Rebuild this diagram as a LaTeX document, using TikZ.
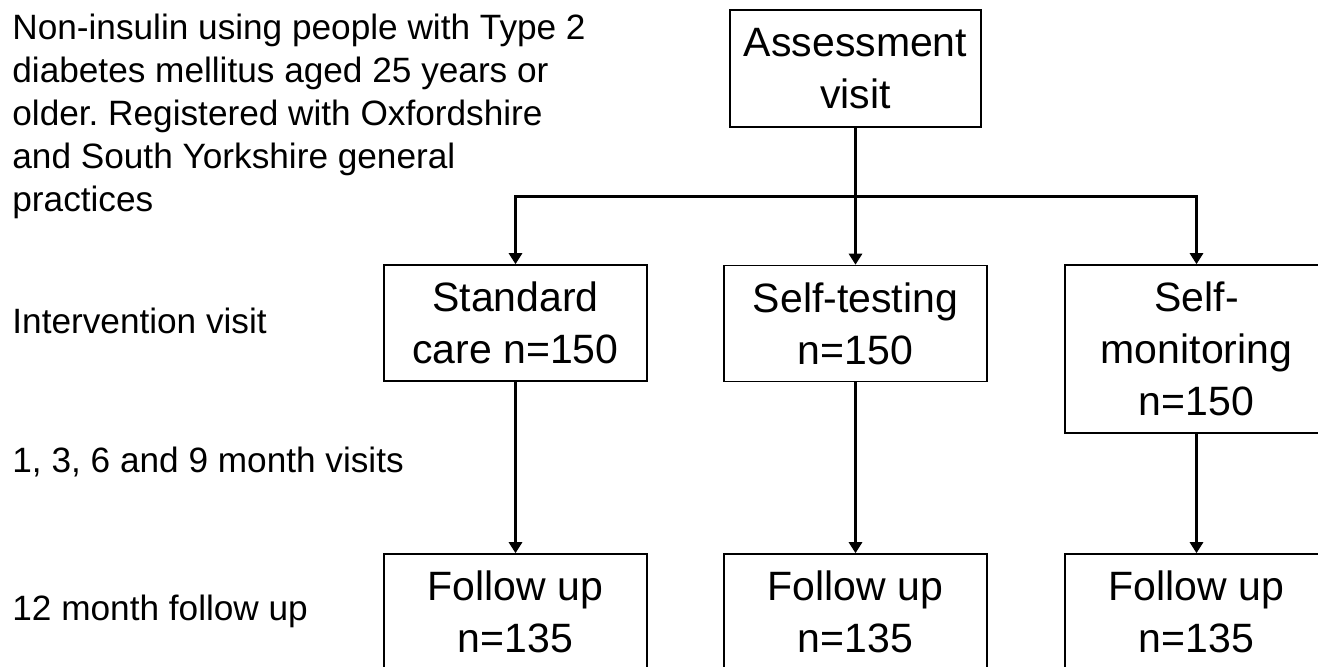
\documentclass[tikz,border=0pt]{standalone}
\usepackage{fontspec}
\setmainfont{Liberation Sans}
\usetikzlibrary{arrows.meta, positioning}
\frenchspacing

\begin{document}
\begin{tikzpicture}[
  x=0.5pt, y=-0.5pt,
  >={Triangle[width=6.5pt, length=5.5pt]},
  armbox/.style={draw, rectangle, line width=0.8pt, minimum width=131.5pt, minimum height=58pt, inner sep=0pt, align=center, font=\fontsize{20.5}{26}\selectfont},
  sidelabel/.style={anchor=base west, inner sep=0pt, align=left, font=\fontsize{17.6}{21.5}\selectfont},
  flow/.style={->, line width=1.5pt}
]
\clip (0,0) rectangle (1318,666);

% Population and assessment
\node[sidelabel, anchor=north west] (popn) at (12,14) {Non-insulin using people with Type 2\\diabetes mellitus aged 25 years or\\older. Registered with Oxfordshire\\and South Yorkshire general\\practices};
\node[armbox, minimum width=125.5pt, minimum height=58.5pt] (assess) at (855.5,68.5) {Assessment\\visit};

% Randomised arms
\node[armbox] (standard) at (515.5,323) {Standard\\care n=150};
\node[armbox] (testing)  at (855.5,323.5) {Self-testing\\n=150};
\node[armbox, minimum height=84pt] (monitor) at (1196.5,349) {Self-\\monitoring\\n=150};

% 12 month follow up
\node[armbox] (fupA) at (515.5,612) {Follow up\\n=135};
\node[armbox] (fupB) at (855.5,612) {Follow up\\n=135};
\node[armbox] (fupC) at (1196.5,612) {Follow up\\n=135};

% Visit labels
\node[sidelabel] (intvisit) at (12,333) {Intervention visit};
\node[sidelabel] (monthly)  at (12,472) {1, 3, 6 and 9 month visits};
\node[sidelabel] (final)    at (12,620) {12 month follow up};

\coordinate (split) at (855.5,196);

% Flows
\draw[flow] (assess) -- (testing);
\draw[flow] (split) -| (standard);
\draw[flow] (split) -| (monitor);
\draw[flow] (standard) -- (fupA);
\draw[flow] (testing) -- (fupB);
\draw[flow] (monitor) -- (fupC);
\end{tikzpicture}
\end{document}
